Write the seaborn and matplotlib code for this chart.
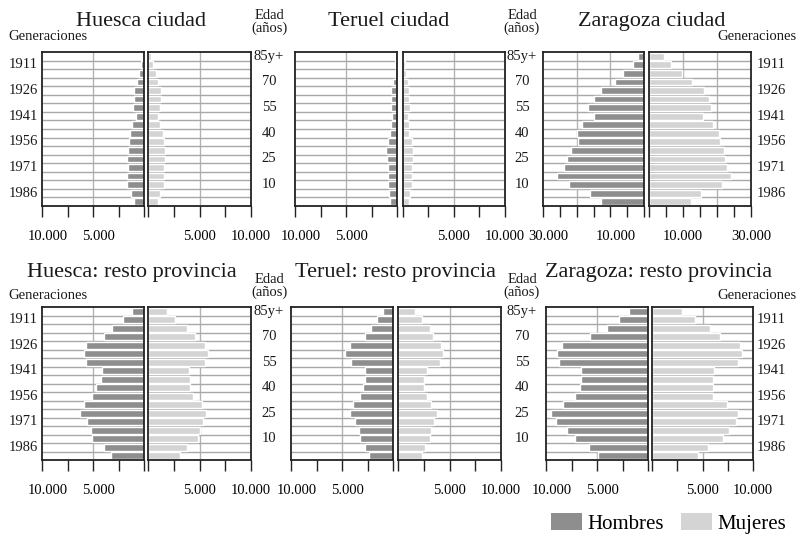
import numpy as np
import pandas as pd
import matplotlib
matplotlib.use("Agg")
import matplotlib.pyplot as plt
from matplotlib.patches import Patch
from matplotlib.transforms import blended_transform_factory, ScaledTranslation
import seaborn as sns

plt.rcParams['font.family'] = ['Liberation Serif', 'DejaVu Serif']

# Age groups, oldest at the top of each pyramid
age_groups = ["85+", "80-84", "75-79", "70-74", "65-69", "60-64", "55-59",
              "50-54", "45-49", "40-44", "35-39", "30-34", "25-29", "20-24",
              "15-19", "10-14", "5-9", "0-4"]

age_label_groups = ["85+", "70-74", "55-59", "40-44", "25-29", "10-14"]
age_labels = ["85y+", "70", "55", "40", "25", "10"]

generation_groups = ["80-84", "65-69", "50-54", "35-39", "20-24", "5-9"]
generation_labels = ["1911", "1926", "1941", "1956", "1971", "1986"]

# Population by sex (Hombres / Mujeres), same order as age_groups
huesca_ciudad_h = [200, 260, 460, 650, 1000, 980, 1050, 790, 1150, 1400, 1480, 1570, 1640, 1570, 1640, 1640, 1250, 980]
huesca_ciudad_m = [320, 520, 750, 940, 1270, 1270, 1140, 940, 1200, 1430, 1590, 1690, 1690, 1530, 1590, 1590, 1170, 970]
teruel_ciudad_h = [150, 200, 230, 360, 560, 620, 620, 460, 590, 690, 890, 1050, 950, 890, 890, 890, 790, 660]
teruel_ciudad_m = [160, 260, 360, 490, 680, 680, 780, 520, 620, 650, 880, 1070, 1070, 880, 880, 910, 720, 680]
zaragoza_ciudad_h = [1670, 3250, 6100, 8550, 12800, 14950, 16700, 14850, 18300, 19860, 19570, 21730, 22800, 23900, 25760, 22220, 16130, 12880]
zaragoza_ciudad_m = [4510, 6470, 9800, 12750, 16080, 17650, 18140, 15780, 18730, 20590, 20780, 22060, 22250, 22940, 24220, 21370, 15200, 12250]
huesca_resto_h = [1180, 2100, 3110, 3900, 5700, 5870, 5640, 4070, 4260, 4720, 5110, 5840, 6260, 5610, 5150, 5080, 3970, 3250]
huesca_resto_m = [1850, 2600, 3800, 4550, 5580, 5810, 5490, 3960, 4120, 4090, 4380, 5230, 5650, 5320, 5000, 4840, 3770, 3120]
teruel_resto_h = [980, 1570, 2160, 2720, 4260, 4690, 4160, 2750, 2750, 2980, 3250, 3930, 4200, 3770, 3380, 3250, 2720, 2390]
teruel_resto_m = [1690, 2310, 3090, 3360, 4170, 4360, 4100, 2800, 2510, 2540, 2770, 3190, 3780, 3520, 3190, 3090, 2640, 2350]
zaragoza_resto_h = [1820, 2800, 4040, 5670, 8440, 8890, 8730, 6550, 6550, 6640, 7130, 8310, 9510, 9020, 7980, 7170, 5800, 4920]
zaragoza_resto_m = [2970, 4290, 5780, 6770, 8710, 8880, 8550, 6110, 6040, 6010, 6010, 7460, 8480, 8320, 7590, 7030, 5510, 4520]

titles = ["Huesca ciudad", "Teruel ciudad", "Zaragoza ciudad",
          "Huesca: resto provincia", "Teruel: resto provincia", "Zaragoza: resto provincia"]

MEN = "#8e8e8e"
WOMEN = "#d4d4d4"
LINE = "#a8a8a8"

W, H = 801, 536
fig = plt.figure(figsize=(W / 100, H / 100), dpi=100)


def px_axes(x0, x1, y0, y1):
    return fig.add_axes([x0 / W, 1 - y1 / H, (x1 - x0) / W, (y1 - y0) / H])


def fmt(v):
    return f"{v:,.0f}".replace(",", ".")


def half(ax, values, color, xmax, step, grid, labelled, left):
    df = pd.DataFrame({"edad": age_groups, "poblacion": values})
    sns.barplot(data=df, x="poblacion", y="edad", order=age_groups, orient="h",
                color=color, saturation=1, width=0.8, edgecolor="white",
                linewidth=1.0, ax=ax, zorder=2)
    n = len(age_groups)
    ax.set_ylim(n - 0.5, -0.5)
    ax.hlines(np.arange(0.5, n - 1), 0, xmax, colors=LINE, lw=1.0, zorder=0.5)
    for g in grid:
        ax.axvline(g, color="#b4b4b4", lw=1.0, zorder=0.4)
    ax.set_xlim((xmax, 0) if left else (0, xmax))
    ticks = np.arange(0, xmax + 1, step)
    ax.set_xticks(ticks)
    ax.set_xticklabels([fmt(t) if t in labelled else "" for t in ticks])
    ax.set_yticks([])
    ax.set_xlabel("")
    ax.set_ylabel("")
    ax.tick_params(axis="x", direction="out", length=8, width=1.0, pad=9.5,
                   labelsize=10.5, color="#222222")
    for s in ax.spines.values():
        s.set_linewidth(1.3)
        s.set_color("#222222")
    if left:
        # the men's scale labels sit slightly to the right of their ticks
        shift = ScaledTranslation(4 / 72, 0, fig.dpi_scale_trans)
        for lbl in ax.get_xticklabels():
            lbl.set_transform(lbl.get_transform() + shift)


# (left panel x-range, right panel x-range, y-range, data, scale)
panels = [
    ((42, 144), (148, 251), (52, 206), huesca_ciudad_h, huesca_ciudad_m, 10000),
    ((295, 397), (402.5, 505), (52, 206), teruel_ciudad_h, teruel_ciudad_m, 10000),
    ((543, 644), (649, 751), (52, 206), zaragoza_ciudad_h, zaragoza_ciudad_m, 30000),
    ((42, 144), (148, 251), (307, 460), huesca_resto_h, huesca_resto_m, 10000),
    ((291, 393), (398, 501), (307, 460), teruel_resto_h, teruel_resto_m, 10000),
    ((546, 648), (652, 753), (307, 460), zaragoza_resto_h, zaragoza_resto_m, 10000),
]

axes = []
for (lx, rx, yy, hv, mv, xmax) in panels:
    if xmax == 30000:
        step, grid, lab = 5000, [10000, 20000], [10000, 30000]
    else:
        step, grid, lab = 2500, [5000], [5000, 10000]
    axl = px_axes(lx[0], lx[1], yy[0], yy[1])
    axr = px_axes(rx[0], rx[1], yy[0], yy[1])
    half(axl, hv, MEN, xmax, step, grid, lab, left=True)
    half(axr, mv, WOMEN, xmax, step, grid, lab, left=False)
    axes.append((axl, axr))

# Titles
title_pos = [(141.5, 26), (389, 26), (652, 26), (132, 277), (395.5, 277), (658.5, 277)]
for t, (x, y) in zip(titles, title_pos):
    fig.text(x / W, 1 - y / H, t, ha="center", va="baseline", fontsize=16, color="#1a1a1a")

small = dict(fontsize=10.5, color="#1a1a1a")

# Age axis labels between pyramids
for ref_ax, x_mid in ((axes[0][1], 269), (axes[1][1], 522), (axes[3][1], 269), (axes[4][1], 522)):
    tr = blended_transform_factory(fig.transFigure, ref_ax.transData)
    for g, lab in zip(age_label_groups, age_labels):
        fig.text(x_mid / W, age_groups.index(g), lab, transform=tr,
                 ha="center", va="center", **small)

for x_mid, yb in ((269, 19), (522, 19), (269, 283), (522, 283)):
    fig.text(x_mid / W, 1 - yb / H, "Edad", ha="center", va="baseline", **small)
    fig.text(x_mid / W, 1 - (yb + 12.5) / H, "(años)", ha="center", va="baseline", **small)

# Generation labels on the outer sides
for ref_ax, x, ha in ((axes[0][0], 38, "right"), (axes[2][1], 757, "left"),
                      (axes[3][0], 38, "right"), (axes[5][1], 757, "left")):
    tr = blended_transform_factory(fig.transFigure, ref_ax.transData)
    for g, lab in zip(generation_groups, generation_labels):
        fig.text(x / W, age_groups.index(g), lab, transform=tr,
                 ha=ha, va="center", **small)

for x, yb, ha in ((8, 40.5, "left"), (797, 40.5, "right"), (8, 299, "left"), (797, 299, "right")):
    fig.text(x / W, 1 - yb / H, "Generaciones", ha=ha, va="baseline", **small)

handles = [Patch(facecolor=MEN, edgecolor="none"), Patch(facecolor=WOMEN, edgecolor="none")]
fig.legend(handles, ["Hombres", "Mujeres"], loc="lower right",
           bbox_to_anchor=(786 / W, 2 / H), ncol=2, frameon=False,
           fontsize=15, handlelength=1.5, handleheight=0.85, handletextpad=0.25,
           columnspacing=0.8, borderpad=0, borderaxespad=0)

fig.savefig("out.png", dpi=100, facecolor="white")
